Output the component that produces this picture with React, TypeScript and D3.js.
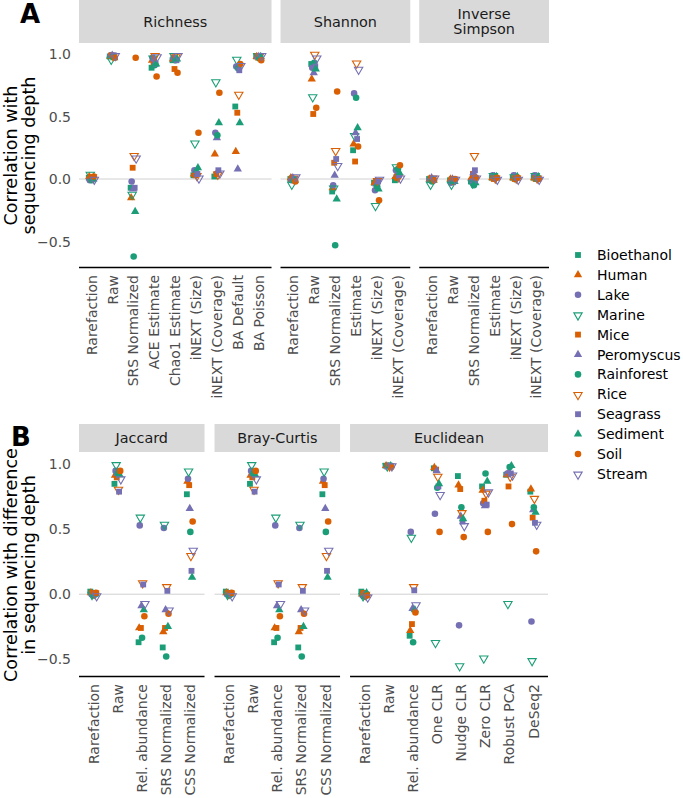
import React from "react";
import * as d3 from "d3";

const species = ["Bioethanol", "Human", "Lake", "Marine", "Mice", "Peromyscus", "Rainforest", "Rice", "Seagrass", "Sediment", "Soil", "Stream"];
const speciesColor = ["#1B9E77", "#D95F02", "#7570B3", "#1B9E77", "#D95F02", "#7570B3", "#1B9E77", "#D95F02", "#7570B3", "#1B9E77", "#D95F02", "#7570B3"];
const speciesShape = ["square", "triangle", "circle", "down", "square", "triangle", "circle", "down", "square", "triangle", "circle", "down"];

// Panel A
const richnessCats = ["Rarefaction", "Raw", "SRS Normalized", "ACE Estimate", "Chao1 Estimate", "iNEXT (Size)", "iNEXT (Coverage)", "BA Default", "BA Poisson"];
const richnessValues = [
  [0.01, 0.02, -0.01, 0.04, 0.0, 0.0, -0.01, 0.02, 0.0, 0.0, 0.02, 0.0],
  [0.98, 0.98, 0.99, 0.96, 0.99, 0.99, 0.98, 0.99, 0.99, 0.97, 0.97, 0.99],
  [-0.07, -0.15, -0.02, -0.12, 0.09, -0.08, -0.62, 0.19, -0.07, -0.26, 0.97, 0.17],
  [0.89, 0.95, 0.97, 0.97, 0.93, 0.96, 0.91, 0.99, 0.92, 0.92, 0.82, 0.98],
  [0.95, 0.96, 0.97, 0.99, 0.88, 0.96, 0.95, 0.98, 0.95, 0.96, 0.85, 0.99],
  [0.03, 0.04, 0.07, 0.29, 0.03, 0.05, 0.05, 0.03, 0.04, 0.09, 0.37, 0.01],
  [0.02, 0.2, 0.37, 0.78, 0.04, 0.33, 0.35, 0.04, 0.07, 0.45, 0.69, 0.05],
  [0.58, 0.22, 0.9, 0.96, 0.53, 0.08, 0.885, 0.68, 0.87, 0.45, 0.92, 0.91],
  [0.98, 0.98, 0.98, 0.99, 0.97, 0.98, 0.97, 0.99, 0.98, 0.98, 0.95, 0.99],
];

const shannonCats = ["Rarefaction", "Raw", "SRS Normalized", "Estimate", "iNEXT (Size)", "iNEXT (Coverage)"];
const shannonValues = [
  [0.0, 0.01, -0.01, -0.04, 0.0, 0.01, -0.01, 0.01, 0.0, -0.01, -0.02, 0.02],
  [0.92, 0.8, 0.89, 0.66, 0.52, 0.85, 0.93, 1.0, 0.9, 0.88, 0.57, 0.97],
  [-0.1, -0.07, -0.05, -0.07, 0.13, 0.03, -0.53, 0.23, 0.16, -0.16, 0.7, 0.11],
  [0.23, 0.28, 0.685, 0.35, 0.14, 0.37, 0.65, 0.93, 0.32, 0.41, 0.26, 0.88],
  [-0.03, -0.03, -0.09, -0.21, -0.02, -0.04, -0.06, -0.01, -0.02, -0.08, -0.17, 0.0],
  [-0.01, 0.02, 0.07, 0.1, 0.01, 0.04, 0.08, 0.02, 0.03, 0.05, 0.11, 0.01],
];

const invSimpsonCats = ["Rarefaction", "Raw", "SRS Normalized", "Estimate", "iNEXT (Size)", "iNEXT (Coverage)"];
const invSimpsonValues = [
  [0.0, 0.0, -0.01, -0.04, 0.0, 0.01, -0.02, 0.01, 0.0, -0.01, -0.01, 0.01],
  [-0.01, 0.0, -0.03, -0.04, 0.0, 0.0, -0.02, 0.0, -0.01, -0.02, 0.0, 0.0],
  [-0.02, 0.01, -0.02, -0.03, 0.04, 0.05, -0.05, 0.19, 0.07, -0.03, 0.01, 0.01],
  [0.01, 0.01, 0.03, 0.03, 0.0, 0.02, 0.02, 0.01, 0.01, 0.02, 0.01, 0.0],
  [0.01, 0.01, 0.03, 0.02, 0.0, 0.02, 0.01, 0.01, 0.01, 0.02, 0.01, 0.0],
  [0.01, 0.01, 0.03, 0.03, 0.0, 0.02, 0.0, 0.01, 0.01, 0.02, 0.0, 0.0],
];

// Panel B
const jaccardCats = ["Rarefaction", "Raw", "Rel. abundance", "SRS Normalized", "CSS Normalized"];
const jaccardValues = [
  [0.02, 0.01, 0.0, 0.0, 0.01, 0.0, -0.01, 0.01, 0.0, 0.0, 0.01, -0.01],
  [0.85, 0.915, 0.95, 1.0, 0.9, 0.93, 0.93, 0.81, 0.79, 0.92, 0.95, 0.89],
  [-0.37, -0.26, 0.53, 0.595, -0.26, -0.09, -0.335, 0.09, 0.075, -0.12, -0.17, -0.07],
  [-0.41, -0.29, 0.51, 0.54, -0.26, -0.12, -0.48, 0.06, 0.026, -0.25, -0.15, -0.12],
  [0.77, 0.87, 0.89, 0.95, 0.84, 0.66, 0.48, 0.3, 0.18, 0.13, 0.56, 0.34],
];

const brayCurtisCats = ["Rarefaction", "Raw", "Rel. abundance", "SRS Normalized", "CSS Normalized"];
const brayCurtisValues = [
  [0.02, 0.01, 0.0, 0.0, 0.01, 0.0, -0.01, 0.01, 0.0, 0.0, 0.01, -0.01],
  [0.85, 0.915, 0.95, 1.0, 0.9, 0.93, 0.93, 0.81, 0.79, 0.92, 0.95, 0.89],
  [-0.37, -0.26, 0.53, 0.595, -0.26, -0.09, -0.335, 0.09, 0.075, -0.12, -0.17, -0.07],
  [-0.41, -0.29, 0.51, 0.54, -0.26, -0.12, -0.48, 0.06, 0.026, -0.25, -0.15, -0.12],
  [0.77, 0.87, 0.89, 0.95, 0.84, 0.66, 0.48, 0.3, 0.18, 0.13, 0.56, 0.34],
];

const euclideanCats = ["Rarefaction", "Raw", "Rel. abundance", "One CLR", "Nudge CLR", "Zero CLR", "Robust PCA", "DeSeq2"];
const euclideanValues = [
  [0.02, 0.0, -0.01, -0.01, 0.01, -0.01, -0.02, 0.0, 0.0, 0.01, -0.01, -0.02],
  [0.99, 0.99, 0.99, 0.99, 0.99, 0.98, 0.99, 0.99, 0.99, 0.99, 0.98, 0.99],
  [-0.32, -0.28, 0.48, 0.44, -0.23, -0.11, -0.37, 0.06, 0.03, -0.12, -0.14, -0.08],
  [0.97, 0.975, 0.62, -0.37, 0.96, 0.95, 0.82, 0.91, 0.83, 0.85, 0.48, 0.77],
  [0.91, 0.84, -0.24, -0.55, 0.81, 0.6, 0.67, 0.63, 0.56, 0.58, 0.44, 0.53],
  [0.83, 0.8, 0.7, -0.49, 0.72, 0.68, 0.93, 0.78, 0.69, 0.87, 0.48, 0.79],
  [0.92, 0.92, 0.93, -0.07, 0.83, 0.94, 0.98, 0.91, 0.93, 0.99, 0.54, 0.92],
  [0.79, 0.81, -0.21, -0.51, 0.59, 0.65, 0.67, 0.74, 0.55, 0.63, 0.33, 0.54],
];

const yTicks = [-0.5, 0, 0.5, 1.0];

const FONT = "DejaVu Sans";

function symbolPath(shape: string) {
  if (shape === "square") return d3.symbol(d3.symbolSquare, 34)();
  if (shape === "triangle") return d3.symbol(d3.symbolTriangle, 30)();
  if (shape === "circle") return d3.symbol(d3.symbolCircle, 34)();
  return d3.symbol(d3.symbolTriangle, 30)();
}

function Marker({ x, y, i }: { x: number; y: number; i: number }) {
  const shape = speciesShape[i];
  const color = speciesColor[i];
  const d = symbolPath(shape) || "";
  if (shape === "down") {
    return (
      <path d={d} transform={`translate(${x},${y + 0.6}) rotate(180)`} fill="none" stroke={color} strokeWidth={1.1} />
    );
  }
  return <path d={d} transform={`translate(${x},${y})`} fill={color} />;
}

type FacetDef = { label: string[]; cats: string[]; values: number[][] };

function Row({
  facets, left, right, gap, stripTop, stripH, panelTop, panelBottom, yDomain, titleLines,
}: {
  facets: FacetDef[]; left: number; right: number; gap: number; stripTop: number; stripH: number;
  panelTop: number; panelBottom: number; yDomain: [number, number]; titleLines: string[];
}) {
  const units = facets.map((f) => f.cats.length - 1 + 1.2);
  const totalUnits = d3.sum(units);
  const unit = (right - left - gap * (facets.length - 1)) / totalUnits;
  const y = d3.scaleLinear().domain(yDomain).range([panelBottom, panelTop]);
  let cursor = left;
  const midY = (panelTop + panelBottom) / 2;
  return (
    <g>
      {facets.map((f, fi) => {
        const x0 = cursor;
        const x1 = cursor + units[fi] * unit;
        cursor = x1 + gap;
        const x = d3.scalePoint<string>().domain(f.cats).range([x0, x1]).padding(0.6);
        const step = x.step();
        const lineH = 15.5;
        const textMid = stripTop + stripH / 2;
        return (
          <g key={fi}>
            <rect x={x0} y={stripTop} width={x1 - x0} height={stripH} fill="#d9d9d9" />
            {f.label.map((l, li) => (
              <text key={li} x={(x0 + x1) / 2} y={textMid + (li - (f.label.length - 1) / 2) * lineH} dy="0.35em"
                textAnchor="middle" fontSize={14.4} fill="#1a1a1a" fontFamily={FONT}>{l}</text>
            ))}
            <line x1={x0} x2={x1} y1={y(0)} y2={y(0)} stroke="#c4c4c4" strokeWidth={0.8} />
            {f.cats.map((c, ci) =>
              species.map((s, si) => (
                <Marker key={`${ci}-${si}`} x={(x(c) as number) + (si - 5.5) * 0.024 * step} y={y(f.values[ci][si])} i={si} />
              ))
            )}
            <line x1={x0} x2={x1} y1={panelBottom + 0.5} y2={panelBottom + 0.5} stroke="#000" strokeWidth={1.7} />
            {f.cats.map((c) => (
              <text key={c} transform={`translate(${x(c)},${panelBottom + 8}) rotate(-90)`} textAnchor="end" dy="0.36em"
                fontSize={14} fill="#4d4d4d" fontFamily={FONT}>{c}</text>
            ))}
          </g>
        );
      })}
      {yTicks.map((t) => (
        <text key={t} x={71} y={y(t)} dy="0.36em" textAnchor="end" fontSize={14} fill="#4d4d4d" fontFamily={FONT}>
          {d3.format(".1f")(t)}
        </text>
      ))}
      {titleLines.map((l, li) => (
        <text key={li} transform={`translate(${17 + li * 18},${midY}) rotate(-90)`} textAnchor="middle"
          fontSize={17.6} fill="#000" fontFamily={FONT}>{l}</text>
      ))}
    </g>
  );
}

const facetsA: FacetDef[] = [
  { label: ["Richness"], cats: richnessCats, values: richnessValues },
  { label: ["Shannon"], cats: shannonCats, values: shannonValues },
  { label: ["Inverse", "Simpson"], cats: invSimpsonCats, values: invSimpsonValues },
];
const facetsB: FacetDef[] = [
  { label: ["Jaccard"], cats: jaccardCats, values: jaccardValues },
  { label: ["Bray-Curtis"], cats: brayCurtisCats, values: brayCurtisValues },
  { label: ["Euclidean"], cats: euclideanCats, values: euclideanValues },
];

export default function App() {
  return (
    <svg width={683} height={798} style={{ position: "absolute", left: 0, top: 0, background: "#fff" }}>
      <rect width={683} height={798} fill="#fff" />
      <Row facets={facetsA} left={79} right={549} gap={9} stripTop={0} stripH={43} panelTop={44} panelBottom={267}
        yDomain={[-0.704, 1.08]} titleLines={["Correlation with", "sequencing depth"]} />
      <Row facets={facetsB} left={79} right={548} gap={10} stripTop={424} stripH={28} panelTop={454} panelBottom={676}
        yDomain={[-0.63, 1.08]} titleLines={["Correlation with difference", "in sequencing depth"]} />
      <text x={20} y={23} fontSize={26} fontWeight="bold" fontFamily={FONT}>A</text>
      <text x={11} y={446} fontSize={26} fontWeight="bold" fontFamily={FONT}>B</text>
      {species.map((s, i) => (
        <g key={s}>
          <Marker x={578} y={255 + i * 19.9} i={i} />
          <text x={597} y={255 + i * 19.9} dy="0.36em" fontSize={14} fill="#000" fontFamily={FONT}>{s}</text>
        </g>
      ))}
    </svg>
  );
}
